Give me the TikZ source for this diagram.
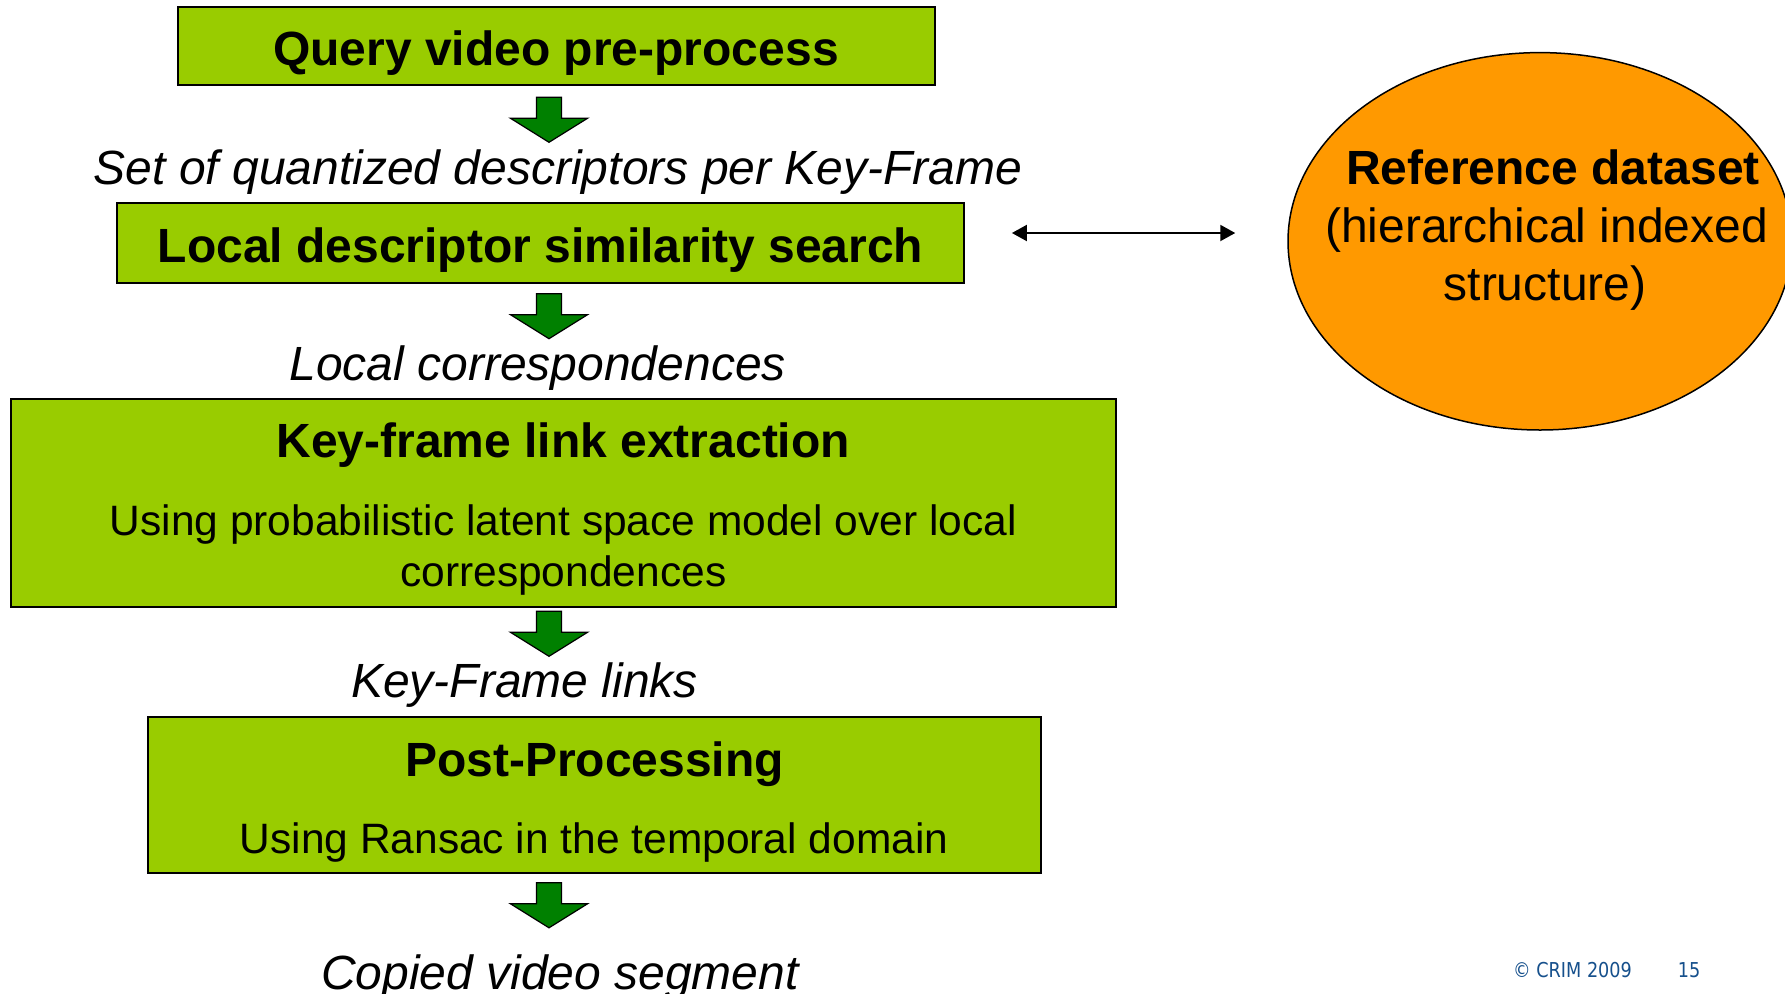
\documentclass[tikz,border=0pt]{standalone}
\usepackage{fontspec}
\setmainfont{Liberation Sans}
\newfontfamily\footfont[FakeStretch=0.86]{DejaVu Sans}
\usetikzlibrary{shapes.geometric,arrows.meta}
\definecolor{boxgreen}{HTML}{99CC00}
\definecolor{arrowgreen}{HTML}{008000}
\definecolor{dsorange}{HTML}{FF9900}
\definecolor{footblue}{RGB}{22,80,140}

\begin{document}
\begin{tikzpicture}[x=1pt,y=-1pt,
  stagebox/.style={draw=black, line width=2pt, fill=boxgreen, rectangle, inner sep=0pt},
  heading/.style={font=\fontsize{48}{57.6}\selectfont\bfseries, inner sep=0pt, anchor=base},
  flowlabel/.style={font=\fontsize{48}{57.6}\selectfont\itshape, inner sep=0pt, anchor=base},
  detail/.style={font=\fontsize{42.5}{51.7}\selectfont, inner sep=0pt, anchor=base},
  plain/.style={font=\fontsize{48}{57.6}\selectfont, inner sep=0pt, anchor=base},
  footer/.style={font=\footfont\fontsize{20.5}{24}\selectfont, text=footblue, inner sep=0pt, anchor=base west},
  blockarrow/.style={fill=arrowgreen, draw=black, line width=1.2pt, line join=miter},
  downarrow/.pic={\path[blockarrow] (-12.5,0) -- (12.5,0) -- (12.5,21) -- (38.5,21)
      -- (0,45) -- (-38.5,21) -- (-12.5,21) -- cycle;},
  linkarrow/.style={line width=2pt, {Triangle[length=15pt,width=16pt]}-{Triangle[length=15pt,width=16pt]}}
]
\clip (0,0) rectangle (1785,993);
\fill[white] (0,0) rectangle (1785,993);

% stage 1
\node[stagebox, minimum width=757pt, minimum height=78.6pt] (b1) at (556,46) {};
\node[heading] (t1) at (556,65) {Query video pre-process};
\pic at (549,97.3) {downarrow};
\node[flowlabel] (l1) at (558,184) {Set of quantized descriptors per Key-Frame};

% stage 2
\node[stagebox, minimum width=847pt, minimum height=80pt] (b2) at (540.4,243) {};
\node[heading] (t2) at (540.5,262) {Local descriptor similarity search};
\pic at (549,293.7) {downarrow};
\node[flowlabel] (l2) at (537.7,380) {Local correspondences};

% stage 3
\node[stagebox, minimum width=1104.6pt, minimum height=207.4pt] (b3) at (563.3,503) {};
\node[heading] (t3) at (563.3,457.5) {Key-frame link extraction};
\node[detail] (d3a) at (563.3,535) {Using probabilistic latent space model over local};
\node[detail] (d3b) at (563.3,586.7) {correspondences};
\pic at (549,611.3) {downarrow};
\node[flowlabel] (l3) at (524.5,697) {Key-Frame links};

% stage 4
\node[stagebox, minimum width=893pt, minimum height=156.3pt] (b4) at (594,794.9) {};
\node[heading] (t4) at (594.5,776) {Post-Processing};
\node[detail] (d4) at (594,853) {Using Ransac in the temporal domain};
\pic at (549,882.8) {downarrow};
\node[flowlabel] (l4) at (560,989) {Copied video segment};

% reference dataset
\node[ellipse, draw=black, line width=1.5pt, fill=dsorange, inner sep=0pt,
      minimum width=504pt, minimum height=377.4pt] (ref) at (1540,241.3) {};
\node[heading] (r1) at (1553,184) {Reference dataset};
\node[plain] (r2) at (1546.5,242) {(hierarchical indexed};
\node[plain] (r3) at (1545,300) {structure)};

% search <-> dataset
\draw[linkarrow, shorten <=47pt, shorten >=52pt]
  ([yshift=10pt]b2.east) -- ([yshift=8.3pt]ref.west);

% footer
\node[footer] (copy) at (1513,977) {© CRIM 2009};
\node[footer] (page) at (1677.7,977) {15};
\end{tikzpicture}
\end{document}
